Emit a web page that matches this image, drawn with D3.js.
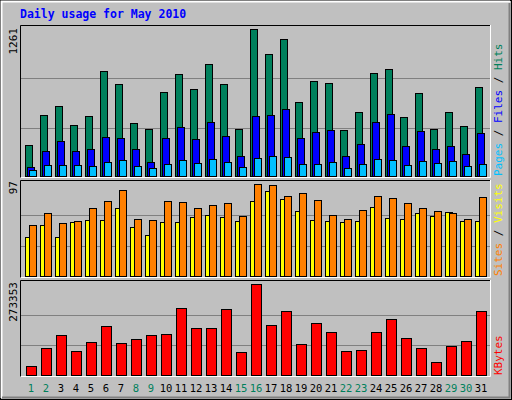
<!DOCTYPE html>
<html><head><meta charset="utf-8">
<script src="https://cdn.jsdelivr.net/npm/d3@7"></script>
<style>body{margin:0;background:#fff}</style></head>
<body><svg id="c" width="512" height="400"></svg>
<script>
const days = d3.range(1,32);
const weekend = [1,2,8,9,15,16,22,23,29,30];
const hits = [273,528,605,443,520,903,792,460,409,724,877,750,963,792,409,1261,1048,1176,639,818,801,400,554,886,920,511,716,409,554,435,767];
const files = [85,222,307,222,239,341,332,239,128,332,426,324,469,349,179,520,528,579,332,383,400,179,281,469,537,264,392,239,264,196,375];
const pages = [60,102,102,102,94,128,145,94,77,111,145,119,153,128,85,162,179,170,111,111,128,77,111,153,145,102,136,119,136,94,111];
const sites = [42,54,42,57,59,59,72,52,44,57,57,63,65,63,58,79,90,81,69,59,58,57,58,73,62,61,67,64,68,58,58];
const visits = [54,67,56,58,72,79,91,60,59,79,78,72,75,77,64,97,96,84,88,80,65,60,70,85,82,77,72,69,67,61,83];
const kbytes = [30815,84490,123260,75546,102384,147114,99401,111330,123260,126242,200790,141150,141150,197808,72564,273353,150096,191844,96420,156060,132204,75546,78528,132204,167990,114312,84490,42743,90456,105366,191844];
const maxHits = 1261, maxVisits = 97, maxKB = 273353;

const svg = d3.select("#c");
const F = "'DejaVu Sans Mono', monospace";
svg.append("rect").attr("x",0).attr("y",0).attr("width",512).attr("height",400).attr("fill","#c0c0c0");
svg.append("rect").attr("x",0.5).attr("y",0.5).attr("width",511).attr("height",399).attr("fill","none").attr("stroke","#000");
svg.append("path").attr("d","M1.5,398V1.5H510").attr("stroke","#fff").attr("stroke-width",2).attr("fill","none");
svg.append("path").attr("d","M2,397.5H509.5V3").attr("stroke","#808080").attr("stroke-width",2).attr("fill","none");

svg.append("text").attr("x",20).attr("y",18).attr("fill","#0000ff").attr("font-family",F)
  .attr("font-weight","bold").attr("font-size",11.5).text("Daily usage for May 2010");

const x = d3.scaleBand().domain(days).range([24,489]).paddingInner(0).paddingOuter(0);

function panel(y0,y1,top){
  const g = svg.append("g");
  g.append("path").attr("d",`M20.5,${y1}V${y0+0.5}H490`).attr("stroke","#000").attr("fill","none");
  g.append("path").attr("d",`M20.5,${y1-0.5}H490.5V${y0}`).attr("stroke","#fff").attr("fill","none");
  return g;
}
function grid(g,y,ticks){ ticks.forEach(t=>g.append("line").attr("x1",21).attr("x2",490).attr("y1",Math.round(y(t))+0.5).attr("y2",Math.round(y(t))+0.5).attr("stroke","#808080")); }
function bars(g,data,y,off,w,color){
  g.selectAll(null).data(data).enter().append("rect")
   .attr("x",(d,i)=>x(days[i])+off+0.5).attr("y",d=>Math.round(y(d))+0.5)
   .attr("width",w).attr("height",d=>Math.max(0,y(0)-Math.round(y(d))-1))
   .attr("fill",color).attr("stroke","#000");
}
function vlabel(xp,yp,parts,anchor){
  const t = svg.append("text").attr("transform",`translate(${xp},${yp}) rotate(-90)`)
    .attr("font-family",F).attr("font-size",11).attr("text-anchor",anchor);
  parts.forEach(p=>t.append("tspan").attr("fill",p[1]).text(p[0]));
}

// panel 1
const y1 = d3.scaleLinear().domain([0,maxHits]).range([177,29]);
const g1 = panel(25,178);
grid(g1,y1,[maxHits/3,maxHits*2/3]);
bars(g1,hits,y1,1,7,"#00805c");
bars(g1,files,y1,3,7,"#0000ff");
bars(g1,pages,y1,5,7,"#00c0ff");
vlabel(17,28,[["1261","#000"]],"end");
vlabel(502,176,[["Pages","#00c0ff"],[" / ","#000"],["Files","#0000ff"],[" / ","#000"],["Hits","#00805c"]],"start");

// panel 2
const y2 = d3.scaleLinear().domain([0,maxVisits]).range([277,184]);
const g2 = panel(180,278);
grid(g2,y2,[maxVisits/3,maxVisits*2/3]);
bars(g2,sites,y2,1,7,"#ffff00");
bars(g2,visits,y2,5,7,"#ff8000");
vlabel(17,181,[["97","#000"]],"end");
vlabel(502,276,[["Sites","#ff8000"],[" / ","#000"],["Visits","#ffff00"]],"start");

// panel 3
const y3 = d3.scaleLinear().domain([0,maxKB]).range([376,284]);
const g3 = panel(280,377);
grid(g3,y3,[maxKB/3,maxKB*2/3]);
bars(g3,kbytes,y3,2,10,"#ff0000");
vlabel(17,282,[["273353","#000"]],"end");
vlabel(502,375,[["KBytes","#ff0000"]],"start");

svg.selectAll(null).data(days).enter().append("text")
  .attr("x",d=>x(d)+7).attr("y",392).attr("text-anchor","middle")
  .attr("font-family",F).attr("font-size",10.5)
  .attr("fill",d=>weekend.includes(d)?"#00805c":"#000").text(d=>d);
</script></body></html>
